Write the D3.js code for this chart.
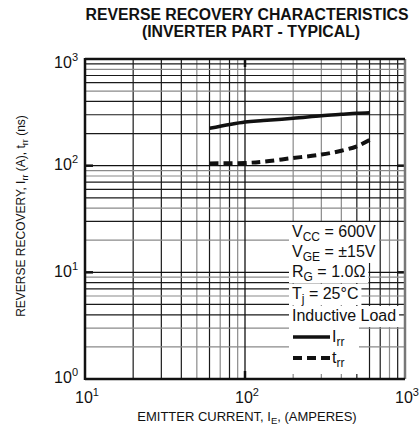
<!DOCTYPE html>
<html><head><meta charset="utf-8">
<script src="https://cdn.jsdelivr.net/npm/d3@7"></script>
<style>body{margin:0;background:#fff}svg{display:block}text{font-family:"Liberation Sans",Arial,sans-serif;fill:#111}</style>
</head><body>
<script>
// ---- data ----
const titleLines = ["REVERSE RECOVERY CHARACTERISTICS", "(INVERTER PART - TYPICAL)"];
const emitterCurrent = [60, 100, 130, 200, 300, 400, 500, 600];
const irrValues = [224, 257, 265, 278, 294, 303, 310, 314];
const trrValues = [105, 106, 109, 118, 127, 138, 152, 174];
const xTickExps = [1, 2, 3];
const yTickExps = [0, 1, 2, 3];
const conditions = [
  [["V", ""], ["CC", "sub"], [" = 600V", ""]],
  [["V", ""], ["GE", "sub"], [" = \u00B115V", ""]],
  [["R", ""], ["G", "sub"], [" = 1.0\u03A9", ""]],
  [["T", ""], ["j", "sub"], [" = 25\u00B0C", ""]],
  [["Inductive Load", ""]]
];
const legendItems = [{name: "I", sub: "rr", dash: null}, {name: "t", sub: "rr", dash: "9,5"}];
// grid minor styles (gray = lighter printed lines)
const xGray = [50, 70, 90, 200, 300, 400, 800];
const yGray = [2, 3, 6, 9, 20, 40, 80, 90, 500, 800];

const W = 419, H = 431;
const m = {l: 85, r: 405, t: 59, b: 379};
const svg = d3.select("body").append("svg").attr("width", W).attr("height", H);
const x = d3.scaleLog().domain([10, 1000]).range([m.l, m.r]);
const y = d3.scaleLog().domain([1, 1000]).range([m.b, m.t]);

// title
svg.append("text").attr("x", 247).attr("y", 20).attr("text-anchor", "middle")
  .attr("font-weight", "bold").attr("font-size", 15.8).text(titleLines[0]);
svg.append("text").attr("x", 251).attr("y", 37).attr("text-anchor", "middle")
  .attr("font-weight", "bold").attr("font-size", 15.8).text(titleLines[1]);

// grid
const g = svg.append("g");
const xVals = [], yVals = [];
[10, 100].forEach(d => { for (let k = 2; k <= 9; k++) xVals.push(d * k); });
[1, 10, 100].forEach(d => { for (let k = 2; k <= 9; k++) yVals.push(d * k); });
xVals.forEach(v => g.append("line").attr("x1", x(v)).attr("x2", x(v)).attr("y1", m.t).attr("y2", m.b)
  .attr("stroke", xGray.includes(v) ? "#8a8a8a" : "#1a1a1a").attr("stroke-width", 1.2));
yVals.forEach(v => g.append("line").attr("y1", y(v)).attr("y2", y(v)).attr("x1", m.l).attr("x2", m.r)
  .attr("stroke", yGray.includes(v) ? "#8a8a8a" : "#1a1a1a").attr("stroke-width", 1.2));
// major lines
[100].forEach(v => g.append("line").attr("x1", x(v)).attr("x2", x(v)).attr("y1", m.t).attr("y2", m.b).attr("stroke", "#111").attr("stroke-width", 1.3));
[10, 100].forEach(v => g.append("line").attr("y1", y(v)).attr("y2", y(v)).attr("x1", m.l).attr("x2", m.r).attr("stroke", "#111").attr("stroke-width", 1.3));
// edge ticks
[10, 100].forEach(v => {
  g.append("line").attr("x1", m.l).attr("x2", m.l + 8).attr("y1", y(v)).attr("y2", y(v)).attr("stroke", "#111").attr("stroke-width", 2.5);
  g.append("line").attr("x1", m.r - 8).attr("x2", m.r).attr("y1", y(v)).attr("y2", y(v)).attr("stroke", "#111").attr("stroke-width", 2.5);
});
g.append("line").attr("x1", x(100)).attr("x2", x(100)).attr("y1", m.t).attr("y2", m.t + 8).attr("stroke", "#111").attr("stroke-width", 2.5);
g.append("line").attr("x1", x(100)).attr("x2", x(100)).attr("y1", m.b - 8).attr("y2", m.b).attr("stroke", "#111").attr("stroke-width", 2.5);

// curves
const line = (vals) => d3.line().x((d, i) => x(emitterCurrent[i])).y(d => y(d)).curve(d3.curveCatmullRom.alpha(0.5))(vals);
svg.append("path").attr("d", line(irrValues)).attr("fill", "none").attr("stroke", "#111").attr("stroke-width", 3.5);
svg.append("path").attr("d", line(trrValues)).attr("fill", "none").attr("stroke", "#111").attr("stroke-width", 4).attr("stroke-dasharray", "9,5");

// legend / conditions
const lg = svg.append("g");
const rowY = [237, 257, 277, 299, 321];
conditions.forEach((parts, i) => {
  const bg = lg.append("rect").attr("fill", "#fff");
  const t = lg.append("text").attr("x", 292).attr("y", rowY[i]).attr("font-size", 16);
  let shifted = false;
  parts.forEach(([s, k]) => {
    if (k === "sub") { t.append("tspan").attr("font-size", 12).attr("dy", 4).text(s); shifted = true; }
    else { t.append("tspan").attr("dy", shifted ? -4 : 0).text(s); shifted = false; }
  });
  const bb = t.node().getBBox();
  bg.attr("x", 289).attr("y", rowY[i] - 15).attr("width", bb.x + bb.width - 289 + 3).attr("height", 21);
});
const legY = [337, 358];
legendItems.forEach((it, i) => {
  lg.append("rect").attr("x", 289).attr("y", legY[i] - 11).attr("width", 70).attr("height", i === 1 ? 27 : 22).attr("fill", "#fff");
  lg.append("line").attr("x1", 293).attr("x2", 330).attr("y1", legY[i]).attr("y2", legY[i])
    .attr("stroke", "#111").attr("stroke-width", i === 0 ? 3.5 : 4).attr("stroke-dasharray", it.dash);
  const t = lg.append("text").attr("x", 332).attr("y", legY[i] + 5).attr("font-size", 16);
  t.append("tspan").text(it.name);
  t.append("tspan").attr("font-size", 12).attr("dy", 4).text(it.sub);
});

// border
svg.append("line").attr("x1", m.r).attr("x2", m.r).attr("y1", m.t).attr("y2", m.b).attr("stroke", "#777").attr("stroke-width", 2.5);
svg.append("line").attr("x1", m.l).attr("x2", m.l).attr("y1", m.t - 1).attr("y2", m.b + 1).attr("stroke", "#111").attr("stroke-width", 2.5);
svg.append("line").attr("x1", m.l).attr("x2", m.r).attr("y1", m.t).attr("y2", m.t).attr("stroke", "#111").attr("stroke-width", 2.5);
svg.append("line").attr("x1", m.l).attr("x2", m.r).attr("y1", m.b).attr("y2", m.b).attr("stroke", "#111").attr("stroke-width", 2.5);

// y tick labels
const yLabelShift = {0: 4, 1: 5, 2: 4, 3: 9};
yTickExps.forEach(e => {
  const t = svg.append("text").attr("x", 78).attr("y", y(Math.pow(10, e)) + yLabelShift[e]).attr("text-anchor", "end").attr("font-size", 16);
  t.append("tspan").text("10");
  t.append("tspan").attr("font-size", 11).attr("dy", -7).text(e);
});
// x tick labels
xTickExps.forEach(e => {
  const t = svg.append("text").attr("x", x(Math.pow(10, e)) + 2).attr("y", 403).attr("text-anchor", "middle").attr("font-size", 16);
  t.append("tspan").text("10");
  t.append("tspan").attr("font-size", 11).attr("dy", -7).text(e);
});

// axis titles
const xt = svg.append("text").attr("x", 247).attr("y", 421).attr("text-anchor", "middle").attr("font-size", 13);
xt.append("tspan").text("EMITTER CURRENT, I");
xt.append("tspan").attr("font-size", 9.5).attr("dy", 3).text("E");
xt.append("tspan").attr("dy", -3).text(", (AMPERES)");

const yt = svg.append("text").attr("transform", "translate(25,216) rotate(-90)").attr("text-anchor", "middle").attr("font-size", 12);
yt.append("tspan").text("REVERSE RECOVERY, I");
yt.append("tspan").attr("font-size", 9).attr("dy", 3).text("rr");
yt.append("tspan").attr("dy", -3).text(" (A), t");
yt.append("tspan").attr("font-size", 9).attr("dy", 3).text("rr");
yt.append("tspan").attr("dy", -3).text(" (ns)");
</script>
</body></html>
